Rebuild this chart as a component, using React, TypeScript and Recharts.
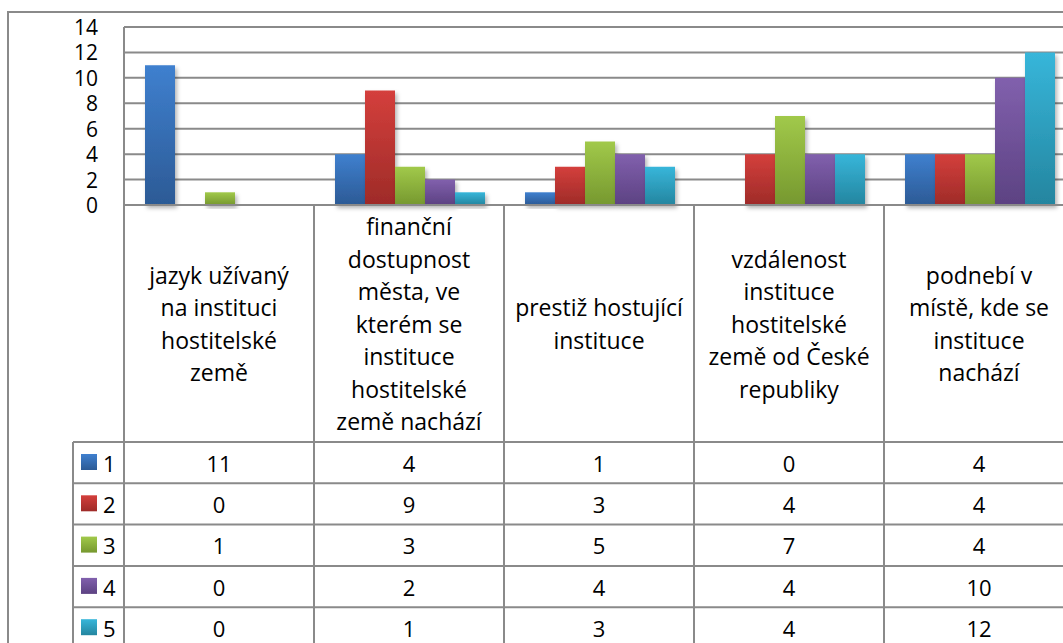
import { BarChart, Bar, XAxis, YAxis, CartesianGrid } from 'recharts';

const categoryLines = [
  ['jazyk užívaný', 'na instituci', 'hostitelské', 'země'],
  ['finanční', 'dostupnost', 'města, ve', 'kterém se', 'instituce', 'hostitelské', 'země nachází'],
  ['prestiž hostující', 'instituce'],
  ['vzdálenost', 'instituce', 'hostitelské', 'země od České', 'republiky'],
  ['podnebí v', 'místě, kde se', 'instituce', 'nachází'],
];

const seriesNames = ['1', '2', '3', '4', '5'];
const s1 = [11, 4, 1, 0, 4];
const s2 = [0, 9, 3, 4, 4];
const s3 = [1, 3, 5, 7, 4];
const s4 = [0, 2, 4, 4, 10];
const s5 = [0, 1, 3, 4, 12];
const allSeries = [s1, s2, s3, s4, s5];

const yTicks = [0, 2, 4, 6, 8, 10, 12, 14];

// top / bottom colour of each bar gradient
const colors = [
  ['#3f80cf', '#2c5a95'],
  ['#d43f3c', '#9e2b28'],
  ['#a1c94a', '#76982f'],
  ['#8160ad', '#5c4282'],
  ['#37b6da', '#24859f'],
];

const data = categoryLines.map((lines, i) => ({
  name: lines.join(' '),
  s1: s1[i],
  s2: s2[i],
  s3: s3[i],
  s4: s4[i],
  s5: s5[i],
}));

const FONT = '"Open Sans", "Noto Sans", sans-serif';
const FS = 23;
const NUM_FS = 22;
const TICK_FS = 21;
const GRID = '#8a8a8a';
const PLOT_BOTTOM = 205;
const BAND = 190;
const HEADER_MID = 323.5;
const LINE_H = 32.5;
const ROW_TOP = 442;
const ROW_H = 41.3;
const LEGEND_LEFT = 73;
const TABLE_BOTTOM = 700;

function TableColumn(props: any) {
  const { x, index } = props;
  const lines = categoryLines[index] || [];
  const left = x - BAND / 2;
  const right = x + BAND / 2;
  const startY = HEADER_MID - ((lines.length - 1) * LINE_H) / 2;
  return (
    <g>
      {index === 0 && (
        <g>
          <line x1={left} y1={PLOT_BOTTOM} x2={left} y2={TABLE_BOTTOM} stroke={GRID} strokeWidth={2} />
          <line x1={LEGEND_LEFT} y1={ROW_TOP} x2={LEGEND_LEFT} y2={TABLE_BOTTOM} stroke={GRID} strokeWidth={2} />
          {seriesNames.map((s, r) => (
            <g key={s}>
              <line x1={LEGEND_LEFT} y1={ROW_TOP + r * ROW_H} x2={left} y2={ROW_TOP + r * ROW_H} stroke={GRID} strokeWidth={2} />
              <rect x={81} y={ROW_TOP + r * ROW_H + 12} width={16} height={16} fill={`url(#grad${r})`} />
              <text x={103} y={ROW_TOP + r * ROW_H + ROW_H / 2} dominantBaseline="central" fontSize={NUM_FS} fontFamily={FONT} fill="#000">
                {s}
              </text>
            </g>
          ))}
        </g>
      )}
      <line x1={right} y1={PLOT_BOTTOM} x2={right} y2={TABLE_BOTTOM} stroke={GRID} strokeWidth={2} />
      {lines.map((l, i) => (
        <text key={i} x={x} y={startY + i * LINE_H} textAnchor="middle" dominantBaseline="central" fontSize={FS} fontFamily={FONT} fill="#000">
          {l}
        </text>
      ))}
      {allSeries.map((vals, r) => (
        <g key={r}>
          <line x1={left} y1={ROW_TOP + r * ROW_H} x2={right} y2={ROW_TOP + r * ROW_H} stroke={GRID} strokeWidth={2} />
          <text x={x} y={ROW_TOP + r * ROW_H + ROW_H / 2} textAnchor="middle" dominantBaseline="central" fontSize={NUM_FS} fontFamily={FONT} fill="#000">
            {vals[index]}
          </text>
        </g>
      ))}
    </g>
  );
}

function YTick(props: any) {
  const { y, payload } = props;
  return (
    <text x={98} y={y} textAnchor="end" dominantBaseline="central" fontSize={TICK_FS} fontFamily={FONT} fill="#000">
      {payload.value}
    </text>
  );
}

export default function App() {
  return (
    <div style={{ position: 'fixed', left: 0, top: 0, width: 1063, height: 643, overflow: 'hidden', background: '#fff' }}>
      <div
        style={{
          position: 'absolute',
          left: 7,
          top: 11,
          width: 2000,
          height: 2000,
          borderLeft: `2px solid ${GRID}`,
          borderTop: `2px solid ${GRID}`,
        }}
      />
      <div style={{ position: 'absolute', left: 0, top: 0 }}>
        <BarChart
          width={1080}
          height={650}
          data={data}
          margin={{ top: 27, right: 6, bottom: 0, left: 0 }}
          barCategoryGap={21}
          barGap={0}
        >
          <defs>
            {colors.map((c, i) => (
              <linearGradient key={i} id={`grad${i}`} x1="0" y1="0" x2="0" y2="1">
                <stop offset="0%" stopColor={c[0]} />
                <stop offset="100%" stopColor={c[1]} />
              </linearGradient>
            ))}
            <filter id="shadow" x="-20%" y="-20%" width="150%" height="150%">
              <feDropShadow dx="2" dy="3" stdDeviation="2" floodColor="#000" floodOpacity="0.3" />
            </filter>
          </defs>
          <CartesianGrid vertical={false} stroke={GRID} strokeWidth={2} />
          <YAxis
            width={124}
            domain={[0, 14]}
            ticks={yTicks}
            interval={0}
            tickLine={false}
            axisLine={{ stroke: GRID, strokeWidth: 2 }}
            tick={<YTick />}
          />
          <XAxis
            dataKey="name"
            height={445}
            interval={0}
            tickLine={false}
            axisLine={{ stroke: GRID, strokeWidth: 2 }}
            tick={<TableColumn />}
          />
          {['s1', 's2', 's3', 's4', 's5'].map((k, i) => (
            <Bar key={k} dataKey={k} fill={`url(#grad${i})`} filter="url(#shadow)" isAnimationActive={false} />
          ))}
        </BarChart>
      </div>
    </div>
  );
}
